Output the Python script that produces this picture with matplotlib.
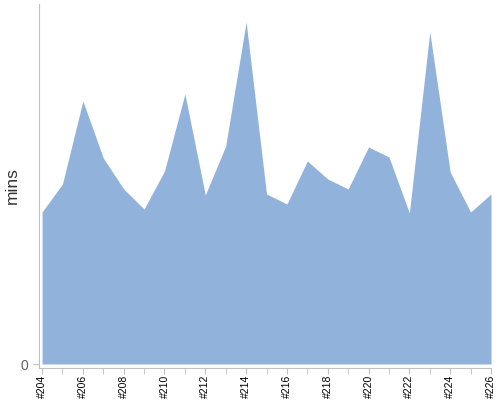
import matplotlib
matplotlib.use("Agg")
import matplotlib.pyplot as plt
from matplotlib.ticker import MultipleLocator

plt.rcParams['font.family'] = ['Liberation Sans', 'DejaVu Sans']

builds = list(range(204, 227))
mins = [152, 180, 263, 206, 175, 155, 193, 270, 169, 218, 342, 170,
        160, 203, 185, 175, 217, 207, 151, 332, 192, 152, 170]
tick_labels = ["#%d" % b for b in builds]

fig = plt.figure(figsize=(5, 4), dpi=100)
ax = fig.add_axes([0.078, 0.08, 0.904, 0.91])

ax.fill_between(builds, mins, 0, color="#90b2db", linewidth=0)

ax.set_xlim(204 - 0.15, 226)
ax.set_ylim(-4, 360)

ax.set_xticks(builds[::2])
ax.set_xticklabels(tick_labels[::2], rotation=90, fontsize=7.5, color="black")
ax.xaxis.set_minor_locator(MultipleLocator(1))
ax.set_yticks([0])
ax.set_yticklabels(["0"], fontsize=10, color="#606060")

for side in ["top", "right"]:
    ax.spines[side].set_visible(False)
for side in ["left", "bottom"]:
    ax.spines[side].set_color("#c0c0c0")
ax.tick_params(axis="x", which="both", colors="#c0c0c0", length=4, labelcolor="black", pad=1)
ax.tick_params(axis="y", colors="#c0c0c0", length=4, labelcolor="#606060")

ax.set_ylabel("mins", fontsize=12.5, color="#333333", va="center")
ax.yaxis.set_label_coords(-0.058, 0.5)

fig.savefig("out.png", dpi=100)
